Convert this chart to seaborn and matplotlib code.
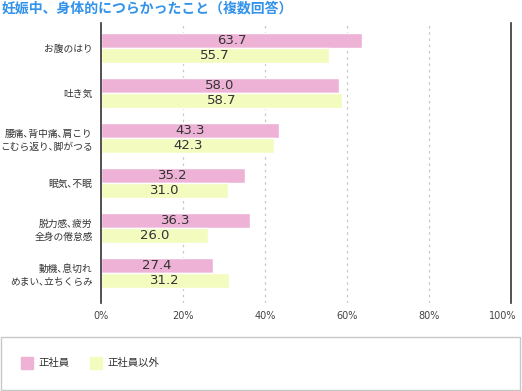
"""Pregnancy-time physical discomfort chart (horizontal grouped bars)."""

import matplotlib
matplotlib.use("Agg")
import matplotlib.pyplot as plt
import pandas as pd
import seaborn as sns
from matplotlib.patches import Rectangle
from matplotlib.transforms import ScaledTranslation

# Data (the halfwidth comma keeps the narrow look of the original labels).
categories = [
    "お腹のはり",
    "吐き気",
    "腰痛､背中痛､肩こり\nこむら返り､脚がつる",
    "眠気､不眠",
    "脱力感､疲労\n全身の倦怠感",
    "動機､息切れ\nめまい､立ちくらみ",
]
regular = [63.7, 58.0, 43.3, 35.2, 36.3, 27.4]
non_regular = [55.7, 58.7, 42.3, 31.0, 26.0, 31.2]
series_names = ["正社員", "正社員以外"]
tick_values = [0, 20, 40, 60, 80, 100]

colors = ["#edb2d6", "#f3fbbe"]
title_color = "#3392ea"

df = pd.DataFrame({
    "category": categories * 2,
    "value": regular + non_regular,
    "series": [series_names[0]] * 6 + [series_names[1]] * 6,
})

sns.set_style("white")
plt.rcParams["font.family"] = ["Noto Sans CJK JP", "DejaVu Sans"]

fig = plt.figure(figsize=(5.22, 3.91), dpi=100)
ax = fig.add_axes([101 / 522, 1 - 303 / 391, 410 / 522, 280 / 391])

sns.barplot(
    data=df, x="value", y="category", hue="series", palette=colors,
    orient="h", width=0.667, saturation=1, legend=False, ax=ax,
)

# Value labels centered in bars.
for container in ax.containers:
    labels = [f"{b.get_width():.1f}" for b in container]
    ax.bar_label(container, labels=labels, label_type="center",
                 fontsize=9.5, color="#333333", family="DejaVu Sans")

ax.set_xlim(0, 100)
ax.set_ylim(5 + 30 / 45, -25 / 45)
ax.set_xticks(tick_values)
ax.set_xticklabels([f"{v}%" for v in tick_values], fontsize=7, color="#444444",
                   family="DejaVu Sans")
ax.tick_params(axis="x", length=0, pad=6)
ax.tick_params(axis="y", length=0, pad=6, labelsize=7, labelcolor="#333333")
for lbl in ax.get_yticklabels():
    lbl.set_linespacing(1.4)
ax.set_xlabel("")
ax.set_ylabel("")

# Nudge the "100%" label left so it stays inside the figure.
last = ax.get_xticklabels()[-1]
last.set_transform(last.get_transform() + ScaledTranslation(-6 / 72, 0, fig.dpi_scale_trans))

for v in tick_values[1:-1]:
    ax.axvline(v, color="#c8c8c8", linestyle=(0, (2, 3)), linewidth=0.9, zorder=0)

for side in ["top", "bottom"]:
    ax.spines[side].set_visible(False)
for side in ["left", "right"]:
    ax.spines[side].set_color("#333333")
    ax.spines[side].set_linewidth(1.2)

# Title.
fig.text(2 / 522, 1 - 9 / 391, "妊娠中、身体的につらかったこと（複数回答）",
         fontsize=10, fontweight="bold", color=title_color, va="center", ha="left")

# Legend box.
fig.patches.append(Rectangle((1 / 522, 1 / 391), 519 / 522, 53 / 391,
                             transform=fig.transFigure, fill=False,
                             edgecolor="#c8c8c8", linewidth=1))
for x0, name, c in zip([21, 90], series_names, colors):
    fig.patches.append(Rectangle((x0 / 522, 1 - 369 / 391), 12 / 522, 12 / 391,
                                 transform=fig.transFigure, color=c))
    fig.text((x0 + 17) / 522, 1 - 363 / 391, name, fontsize=7.5,
             color="#333333", va="center", ha="left")

fig.savefig("out.png", dpi=100)
